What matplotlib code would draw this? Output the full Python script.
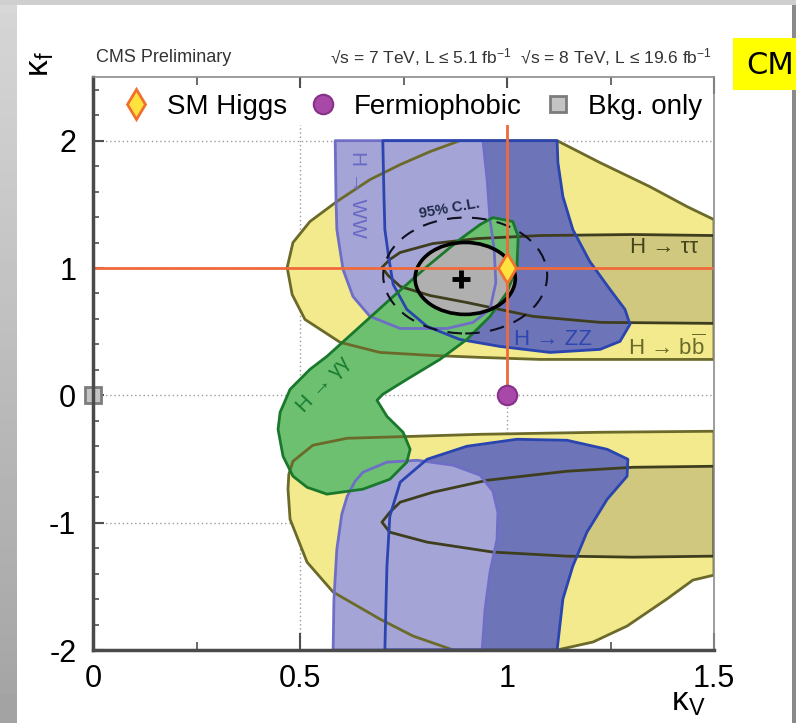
import matplotlib
matplotlib.use('Agg')
import matplotlib.pyplot as plt
from matplotlib.patches import Polygon, Ellipse, Rectangle
from matplotlib.lines import Line2D
import numpy as np

plt.rcParams['font.family'] = ['Liberation Sans', 'DejaVu Sans']
plt.rcParams['mathtext.fontset'] = 'custom'
plt.rcParams['mathtext.rm'] = 'Liberation Sans'
plt.rcParams['mathtext.it'] = 'Liberation Sans:italic'
plt.rcParams['mathtext.bf'] = 'Liberation Sans:bold'

# ---- contour outlines, (kappa_V, kappa_f) ----
bb_upper = [(0.886, 2.0), (0.814, 1.914), (0.742, 1.812), (0.669, 1.694), (0.589, 1.522),
            (0.524, 1.365), (0.483, 1.200), (0.469, 1.004), (0.481, 0.792), (0.512, 0.596),
            (0.597, 0.416), (0.693, 0.337), (0.814, 0.314), (0.935, 0.298), (1.080, 0.282),
            (1.273, 0.282), (1.5, 0.282), (1.5, 1.380), (1.435, 1.482), (1.345, 1.639),
            (1.225, 1.827), (1.121, 2.0)]
bb_lower = [(0.483, -0.518), (0.531, -0.392), (0.614, -0.337), (0.773, -0.322), (0.935, -0.306),
            (1.225, -0.290), (1.5, -0.282), (1.5, -1.412), (1.449, -1.451), (1.386, -1.600),
            (1.290, -1.812), (1.208, -1.937), (1.121, -2.0), (0.870, -2.0), (0.773, -1.890),
            (0.693, -1.757), (0.580, -1.545), (0.517, -1.310), (0.476, -0.973), (0.471, -0.737),
            (0.473, -0.620)]
tautau_upper = [(0.698, 1.004), (0.717, 1.067), (0.742, 1.122), (0.821, 1.192), (0.928, 1.231),
                (1.080, 1.255), (1.304, 1.263), (1.5, 1.255), (1.5, 0.565), (1.225, 0.573),
                (1.063, 0.620), (0.903, 0.729), (0.814, 0.784), (0.742, 0.855), (0.713, 0.941)]
tautau_lower = [(0.698, -0.996), (0.717, -0.918), (0.742, -0.839), (0.821, -0.761), (0.952, -0.667),
                (1.145, -0.596), (1.304, -0.565), (1.5, -0.557), (1.5, -1.263), (1.304, -1.271),
                (1.145, -1.263), (0.966, -1.231), (0.807, -1.153), (0.717, -1.075)]
ww_upper = [(0.585, 2.0), (0.587, 1.537), (0.589, 1.302), (0.604, 0.988), (0.628, 0.776),
            (0.669, 0.620), (0.742, 0.525), (0.855, 0.525), (0.918, 0.573), (0.959, 0.675),
            (0.973, 0.886), (0.969, 1.145), (0.959, 1.380), (0.952, 1.694), (0.942, 2.0)]
ww_lower = [(0.580, -2.0), (0.582, -1.600), (0.589, -1.208), (0.601, -0.933), (0.614, -0.792),
            (0.633, -0.675), (0.652, -0.604), (0.710, -0.525), (0.783, -0.510), (0.870, -0.549),
            (0.935, -0.627), (0.966, -0.753), (0.978, -0.918), (0.976, -1.129), (0.959, -1.388),
            (0.947, -1.678), (0.940, -2.0)]
zz_upper = [(0.700, 2.0), (0.703, 1.537), (0.705, 1.302), (0.715, 1.067), (0.725, 0.871),
            (0.758, 0.675), (0.807, 0.541), (0.886, 0.439), (0.983, 0.384), (1.104, 0.337),
            (1.225, 0.361), (1.273, 0.424), (1.297, 0.557), (1.285, 0.675), (1.249, 0.831),
            (1.200, 1.051), (1.159, 1.302), (1.135, 1.561), (1.123, 1.827), (1.121, 2.0)]
zz_lower = [(0.705, -2.0), (0.708, -1.600), (0.710, -1.341), (0.717, -0.949), (0.742, -0.682),
            (0.807, -0.502), (0.903, -0.400), (1.024, -0.345), (1.145, -0.353), (1.242, -0.424),
            (1.292, -0.502), (1.290, -0.635), (1.242, -0.816), (1.193, -1.075), (1.159, -1.341),
            (1.135, -1.600), (1.121, -2.0)]
gg = [(0.966, 1.396), (1.014, 1.365), (1.027, 1.247), (1.024, 1.012), (1.000, 0.808),
      (0.959, 0.620), (0.903, 0.439), (0.838, 0.282), (0.758, 0.125), (0.700, 0.008),
      (0.686, -0.039), (0.710, -0.165), (0.749, -0.290), (0.766, -0.424), (0.758, -0.525),
      (0.717, -0.659), (0.652, -0.737), (0.565, -0.776), (0.517, -0.722), (0.483, -0.635),
      (0.459, -0.478), (0.447, -0.267), (0.452, -0.133), (0.476, 0.047), (0.524, 0.204),
      (0.565, 0.306), (0.645, 0.541), (0.725, 0.776), (0.807, 1.012), (0.886, 1.224),
      (0.935, 1.341)]

# combined fit
best_fit = (0.889, 0.910)
cl68_center, cl68_size = (0.899, 0.918), (0.242, 0.565)
cl95_center, cl95_size = (0.899, 0.941), (0.396, 0.910)

sm_point = (1.0, 1.0)
fermiophobic_point = (1.0, 0.0)
bkg_point = (0.0, 0.0)

fig = plt.figure(figsize=(7.96, 7.23), dpi=100)
fig.patch.set_facecolor('white')

# slide border
gax = fig.add_axes([0, 0, 17 / 796, 1], zorder=-4)
gax.imshow(np.linspace(0.84, 0.64, 50)[:, None] * np.ones((1, 4)), cmap='gray', vmin=0, vmax=1,
           aspect='auto', extent=(0, 1, 0, 1))
gax.axis('off')
fig.patches.append(Rectangle((0, 1 - 5 / 723), 1, 5 / 723, transform=fig.transFigure,
                             facecolor='#cfcfcf', edgecolor='none', zorder=-3))
fig.patches.append(Rectangle((792 / 796, 0), 4 / 796, 1 - 5 / 723, transform=fig.transFigure,
                             facecolor='#8a8a8a', edgecolor='none', zorder=-3))
fig.patches.append(Rectangle((733 / 796, 1 - 90 / 723), 70 / 796, 52 / 723, transform=fig.transFigure,
                             facecolor='#ffff00', edgecolor='none', zorder=3))
fig.text(746 / 796, 1 - 65 / 723, 'CM', fontsize=22, family=['DejaVu Sans'], color='black',
         ha='left', va='center', zorder=4)

ax = fig.add_axes([93 / 796, 1 - 650 / 723, 621 / 796, 573 / 723])
ax.set_xlim(0, 1.5)
ax.set_ylim(-2, 2.5)

# grid
for gy in [2, 1, 0, -1]:
    ax.axhline(gy, color='#9a9a9a', lw=1, ls=(0, (1, 2)), zorder=0.5)
for gx in [0.5, 1.0]:
    ax.axvline(gx, color='#9a9a9a', lw=1, ls=(0, (1, 2)), zorder=0.5)

fills = [
    (bb_upper, '#f2ea8c', '#6b6a2a', 1, 7),
    (bb_lower, '#f2ea8c', '#6b6a2a', 1, 7),
    (tautau_upper, '#d0c87e', '#3e3e1e', 2, 8),
    (tautau_lower, '#d0c87e', '#3e3e1e', 2, 8),
    (zz_upper, '#6e74b8', '#2a44b0', 3, 10),
    (zz_lower, '#6e74b8', '#2a44b0', 3, 10),
    (ww_upper, '#a4a4d6', '#6e6ec6', 4, 9),
    (ww_lower, '#a4a4d6', '#6e6ec6', 4, 9),
    (gg, '#6cc070', '#1a782c', 5, 11),
]
for pts, fc, ec, zf, ze in fills:
    ax.add_patch(Polygon(np.array(pts), closed=True, facecolor=fc, edgecolor='none', zorder=zf))
    ax.add_patch(Polygon(np.array(pts), closed=True, fill=False, edgecolor=ec, lw=2,
                         joinstyle='round', zorder=ze))

ax.add_patch(Ellipse(cl68_center, cl68_size[0], cl68_size[1], facecolor='#b0b0b0',
                     edgecolor='none', zorder=6))
ax.add_patch(Ellipse(cl68_center, cl68_size[0], cl68_size[1], fill=False,
                     edgecolor='black', lw=2.6, zorder=13))
ax.add_patch(Ellipse(cl95_center, cl95_size[0], cl95_size[1], fill=False,
                     edgecolor='#101020', lw=1.5, ls=(0, (7, 5)), zorder=12))
ax.plot(*best_fit, marker='+', ms=13, mew=3.5, color='black', zorder=15)

# SM lines
ax.plot([0, 1.5], [sm_point[1], sm_point[1]], color='#f06a3c', lw=2, zorder=14)
ax.plot([sm_point[0], sm_point[0]], [fermiophobic_point[1], 2.2], color='#f06a3c', lw=2, zorder=14)

# markers
ax.plot(*sm_point, marker='d', ms=15, mfc='#ffe23e', mec='#f07030', mew=2, zorder=16)
ax.plot(*fermiophobic_point, marker='o', ms=14, mfc='#a848a8', mec='#883088', mew=1.5, zorder=16)
ax.plot(*bkg_point, marker='s', ms=12, mfc='#c4c4c4', mec='#7c7c7c', mew=2, zorder=16, clip_on=False)

# channel labels
ax.text(0.638, 1.576, 'H → WW', rotation=-90, color='#6a6ac6', fontsize=15,
        ha='center', va='center', zorder=15)
ax.text(1.111, 0.439, 'H → ZZ', color='#2c48b0', fontsize=16, ha='center', va='center', zorder=15)
ax.text(1.379, 1.161, 'H → ττ', color='#44441c', fontsize=16, ha='center', va='center', zorder=15)
ax.text(1.386, 0.376, r'H → b$\overline{\mathregular{b}}$', color='#6a6a28', fontsize=16,
        ha='center', va='center', zorder=15)
ax.text(0.556, 0.086, 'H → γγ', rotation=47, color='#187a30', fontsize=15,
        ha='center', va='center', zorder=15)
ax.text(0.860, 1.467, '95% C.L.', rotation=10, color='#1e2a4a', fontsize=10.5, fontweight='bold',
        ha='center', va='center', zorder=15)

# legend
handles = [
    Line2D([], [], ls='none', marker='d', ms=15, mfc='#ffe23e', mec='#f07030', mew=2),
    Line2D([], [], ls='none', marker='o', ms=14, mfc='#a848a8', mec='#883088', mew=1.5),
    Line2D([], [], ls='none', marker='s', ms=11, mfc='#c4c4c4', mec='#7c7c7c', mew=2),
]
leg = ax.legend(handles, ['SM Higgs', 'Fermiophobic', 'Bkg. only'], ncol=3, loc='center',
                bbox_to_anchor=(0.5145, 0.948), fontsize=20, frameon=True, facecolor='white',
                edgecolor='none', framealpha=1, handlelength=1.0, handletextpad=0.6,
                columnspacing=0.8, borderpad=0.2)
leg.set_zorder(20)

# axes styling
ax.set_xticks([0, 0.5, 1, 1.5])
ax.set_xticklabels(['0', '0.5', '1', '1.5'])
ax.set_xticks([0.25, 0.75, 1.25], minor=True)
ax.set_yticks([-2, -1, 0, 1, 2])
ax.set_yticklabels(['-2', '-1', '0', '1', '2'])
ax.set_yticks(np.arange(-1.8, 2.5, 0.2), minor=True)
ax.tick_params(axis='both', which='both', direction='in', colors='#505050', labelcolor='black')
ax.tick_params(axis='x', which='major', length=12, width=1.5, labelsize=22, pad=10, top=True)
ax.tick_params(axis='x', which='minor', length=6, width=1.2, top=True)
ax.tick_params(axis='y', which='major', length=8, width=1.5, labelsize=22, pad=12)
ax.tick_params(axis='y', which='minor', length=4, width=1.2)
for side in ['left', 'bottom']:
    ax.spines[side].set_color('#4a4a4a')
    ax.spines[side].set_linewidth(2.5)
for side in ['top', 'right']:
    ax.spines[side].set_color('#8c8c8c')
    ax.spines[side].set_linewidth(1.2)
for s in ax.spines.values():
    s.set_zorder(25)

# header and axis titles
fig.text(96 / 796, 1 - 57 / 723, 'CMS Preliminary', fontsize=13, color='#333333',
         ha='left', va='center')
fig.text(712 / 796, 1 - 57 / 723,
         r'√s = 7 TeV, L ≤ 5.1 fb$^{\mathregular{-1}}$  √s = 8 TeV, L ≤ 19.6 fb$^{\mathregular{-1}}$',
         fontsize=12.5, color='#333333', ha='right', va='center')
fig.text(40 / 796, 1 - 64 / 723, r'κ$_{\mathregular{f}}$', rotation=90, fontsize=24,
         ha='center', va='center')
fig.text(688 / 796, 1 - 703 / 723, r'κ$_{\mathregular{V}}$', fontsize=24, ha='center', va='center')

fig.savefig('out.png', dpi=100)
